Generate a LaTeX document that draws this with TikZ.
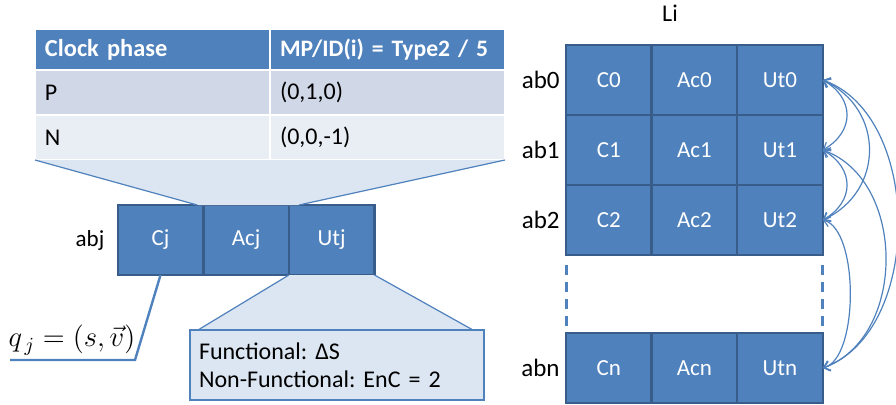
\documentclass[tikz,border=0pt]{standalone}
\usepackage{fontspec}
\setmainfont{Carlito}
\frenchspacing
\usetikzlibrary{arrows.meta, calc, positioning}
\definecolor{cellblue}{HTML}{4F81BD}
\definecolor{edgeblue}{HTML}{385D8A}
\definecolor{rowdark}{HTML}{D0D8E8}
\definecolor{rowlight}{HTML}{E9EDF4}
\definecolor{notefill}{HTML}{DCE6F2}
\tikzset{
  cell/.style = {draw=edgeblue, line width=1.2pt, fill=cellblue, text=white,
    minimum width=42.8pt, minimum height=35pt, inner sep=0pt, outer sep=0pt,
    font=\fontsize{11.5}{13}\selectfont},
  lbl/.style = {inner sep=0pt, font=\fontsize{12.5}{14}\selectfont},
  tab/.style = {draw=white, line width=1pt, outer sep=0pt, inner xsep=5pt,
    text width=107.5pt, align=left, anchor=north west},
  hdr/.style = {tab, fill=cellblue, text=white, minimum height=20.5pt,
    font=\fontsize{12.2}{14}\selectfont\bfseries},
  rowa/.style = {tab, fill=rowdark, minimum height=22.5pt, font=\fontsize{12}{14}\selectfont},
  rowb/.style = {tab, fill=rowlight, minimum height=22.5pt, font=\fontsize{12}{14}\selectfont},
  note/.style = {draw=cellblue, line width=0.6pt, fill=notefill, anchor=north west,
    text width=138pt, inner xsep=4.5pt, minimum height=35pt, align=left, outer sep=0pt,
    font=\fontsize{12}{14}\selectfont},
  thinblue/.style = {draw=cellblue, line width=0.6pt},
  dashline/.style = {draw=cellblue, line width=1.5pt, dash pattern=on 5pt off 3.5pt},
  link/.style = {draw=cellblue, line width=0.6pt,
    {Straight Barb[length=3pt,width=5pt]}-{Straight Barb[length=3pt,width=5pt]}},
}
\begin{document}
\begin{tikzpicture}[x=0.5pt, y=0.5pt]
\useasboundingbox (0,0) rectangle (896,-404);

% clock phase table
\node[hdr] (hphase) at (35,-29) {Clock phase};
\node[hdr, font=\fontsize{11.8}{14}\selectfont\bfseries] (htype) at (270,-29) {\mbox{MP/ID(i) = Type2 / 5}};
\node[rowa] (pphase) at (35,-70) {P};
\node[rowa] (pval) at (270,-70) {(0,1,0)};
\node[rowb] (nphase) at (35,-115) {N};
\node[rowb] (nval) at (270,-115) {(0,0,-1)};

% block abj
\node[cell] (cj) at (160.5,-240) {Cj};
\node[cell, right=0pt of cj] (acj) {Acj};
\node[cell, right=0pt of acj] (utj) {Utj};
\node[lbl, left=6.5pt of cj, font=\fontsize{11.5}{13}\selectfont] (abj) {abj};

% funnel from the table down to the block
\coordinate (fl) at ($(cj.north east)+(-6,0)$);
\coordinate (fr) at ($(utj.north west)+(10,0)$);
\fill[notefill] (nphase.south west) -- (nval.south east) -- (fr) -- (fl) -- cycle;
\draw[thinblue] (nphase.south west) -- (fl) (nval.south east) -- (fr);

% callout under Utj
\coordinate (notetl) at (190,-330);
\coordinate (notetr) at (475,-330);
\fill[notefill] (utj.south west) -- (utj.south east) -- ($(notetr)+(-2,0)$) -- ($(notetl)+(8,0)$) -- cycle;
\draw[thinblue] (utj.south west) -- ($(notetl)+(8,0)$) (utj.south east) -- ($(notetr)+(-2,0)$);
\node[note] (utjnote) at (notetl) {Functional: ΔS\\Non-Functional: EnC = 2};

% state of Cj
\coordinate (qbend) at (135,-360);
\coordinate (qend) at (10,-360);
\draw[draw=cellblue, line width=1.2pt] (cj.south) -- (qbend) -- (qend);
\node[font=\fontsize{14}{16}\selectfont] (qj) at (72,-340) {$q_{\,j}=(s,\vec{v})$};

% layer Li
\node[lbl, font=\fontsize{12}{13}\selectfont] (li) at (670,-13) {Li};
\foreach \r/\y in {0/-80, 1/-150, 2/-220, n/-368} {
  \node[cell] (c\r) at (608.8,\y) {C\r};
  \node[cell, right=0pt of c\r] (ac\r) {Ac\r};
  \node[cell, right=0pt of ac\r] (ut\r) {Ut\r};
  \node[lbl, left=3pt of c\r] (ab\r) {ab\r};
}
\draw[dashline] ($(c2.south west)+(0,-10)$) -- (cn.north west);
\draw[dashline] ($(ut2.south east)+(0,-10)$) -- (utn.north east);

% links between the Ut cells
\draw[link] (ut0.east) to[out=-30, in=30, looseness=1.35] (ut1.east);
\draw[link] (ut1.east) to[out=-30, in=30, looseness=1.35] (ut2.east);
\draw[link] (ut2.east) to[out=-15, in=15, looseness=0.65] (utn.east);
\draw[link] (ut0.east) to[out=-25, in=25, looseness=1.25] (ut2.east);
\draw[link] (ut1.east) to[out=-20, in=20, looseness=1.05] (utn.east);
\draw[link] (ut0.east) to[out=-20, in=20, looseness=0.95] (utn.east);
\end{tikzpicture}
\end{document}
